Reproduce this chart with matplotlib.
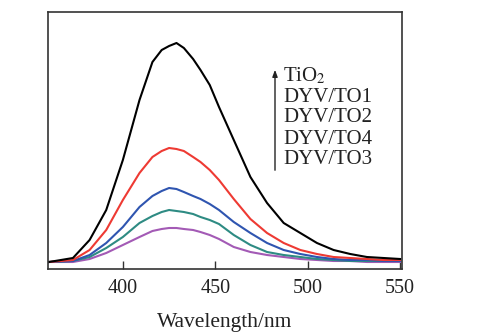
import matplotlib
matplotlib.use("Agg")
import matplotlib.pyplot as plt

wavelength = [360, 373, 382, 391, 400, 409, 416, 421, 425, 429, 433, 438, 442,
              447, 452, 460, 469, 478, 487, 496, 505, 514, 523, 532, 541, 550]
tio2 = [7, 11, 29, 59, 109, 169, 207, 219, 223, 226, 221, 210, 199,
        184, 162, 129, 92, 66, 46, 36, 26, 19, 15, 12, 11, 10]
dyv_to1 = [7, 9, 19, 39, 69, 96, 112, 118, 121, 120, 118, 112, 107,
           99, 89, 70, 50, 36, 26, 19, 15, 12, 11, 10, 9, 9]
dyv_to2 = [7, 8, 14, 26, 42, 62, 73, 78, 81, 80, 77, 73, 70,
           65, 59, 47, 36, 26, 19, 15, 12, 10, 9, 9, 8, 8]
dyv_to4 = [7, 8, 12, 21, 32, 46, 53, 57, 59, 58, 57, 55, 52,
           49, 45, 34, 24, 17, 14, 12, 10, 9, 8, 8, 8, 8]
dyv_to3 = [7, 7, 10, 16, 24, 32, 38, 40, 41, 41, 40, 39, 37,
           34, 30, 22, 17, 14, 12, 10, 9, 8, 8, 7, 7, 7]

series = [tio2, dyv_to1, dyv_to2, dyv_to4, dyv_to3]
colors = ["#000000", "#ee3a33", "#2f55b0", "#2e8b83", "#a35ab5"]
labels = ["TiO$_2$", "DYV/TO1", "DYV/TO2", "DYV/TO4", "DYV/TO3"]
xticks = [400, 450, 500, 550]

plt.rcParams['font.family'] = ['Liberation Serif', 'DejaVu Serif']
plt.rcParams['mathtext.fontset'] = 'stix'

fig = plt.figure(figsize=(4.93, 3.36), dpi=100)
ax = fig.add_axes([48/493, 1-269/336, (402-48)/493, (269-12)/336])

for vals, c in zip(series[::-1], colors[::-1]):
    ax.plot(wavelength, vals, color=c, lw=1.5)

ax.set_xlim(359.5, 551)
ax.set_ylim(0, 257)
ax.set_xticks(xticks)
ax.set_yticks([])
ax.tick_params(axis='x', direction='in', length=6, width=1, labelsize=14.5,
               pad=7, colors='#333333', labelcolor='#222222')
for s in ax.spines.values():
    s.set_color('#333333')
    s.set_linewidth(1.2)
ax.set_xlabel("Wavelength/nm", fontsize=15.5, color='#222222', labelpad=11)

ys = [76, 97, 118, 139, 160]
for lab, y in zip(labels, ys):
    fig.text(283/493, 1-y/336, lab, fontsize=15, color='#222222',
             va='center', ha='left')
fig.patches.append(matplotlib.patches.FancyArrowPatch(
    (275/493, 1-173/336), (275/493, 1-67/336), transform=fig.transFigure,
    arrowstyle='-|>,head_length=4,head_width=1.5', color='#222222', lw=1.0))

fig.savefig("out.png", dpi=100)
